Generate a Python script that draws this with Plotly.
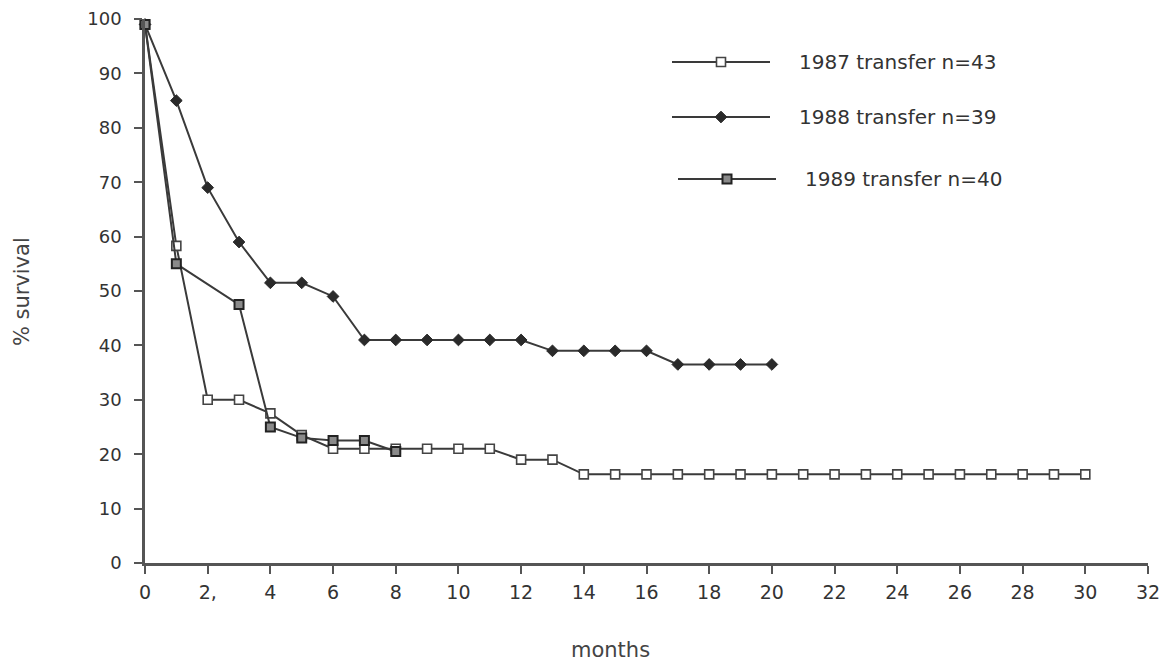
import plotly.graph_objects as go

months_1987 = list(range(0, 31))
surv_1987 = [99, 58.3, 30, 30, 27.5, 23.5, 21, 21, 21, 21, 21, 21, 19, 19,
             16.3, 16.3, 16.3, 16.3, 16.3, 16.3, 16.3, 16.3, 16.3, 16.3, 16.3,
             16.3, 16.3, 16.3, 16.3, 16.3, 16.3]

months_1988 = list(range(0, 21))
surv_1988 = [99, 85, 69, 59, 51.5, 51.5, 49, 41, 41, 41, 41, 41, 41, 39, 39,
             39, 39, 36.5, 36.5, 36.5, 36.5]

months_1989 = [0, 1, 3, 4, 5, 6, 7, 8]
surv_1989 = [99, 55, 47.5, 25, 23, 22.5, 22.5, 20.5]

names = ["1987 transfer n=43", "1988 transfer n=39", "1989 transfer n=40"]
x_ticks = list(range(0, 33, 2))
x_tick_text = ["0", "2,"] + [str(v) for v in range(4, 33, 2)]
y_ticks = list(range(0, 101, 10))

FONT = "DejaVu Sans, Arial"
LINE = "#3a3a3a"
styles = [
    dict(symbol="square", size=9, color="white", line=dict(color="#444", width=1.6)),
    dict(symbol="diamond", size=9, color="#2a2a2a", line=dict(color="#2a2a2a", width=1)),
    dict(symbol="square", size=9, color="#8a8a8a", line=dict(color="#222", width=2)),
]

fig = go.Figure()
for xs, ys, nm, st in [(months_1987, surv_1987, names[0], styles[0]),
                       (months_1988, surv_1988, names[1], styles[1]),
                       (months_1989, surv_1989, names[2], styles[2])]:
    fig.add_trace(go.Scatter(x=xs, y=ys, mode="lines+markers", name=nm,
                             line=dict(color=LINE, width=2), marker=st,
                             showlegend=False, cliponaxis=False))

# manual legend on a pixel-scaled overlay axis
leg_y = [62, 117, 179]
leg_x0 = [672, 672, 678]
leg_x1 = [770, 770, 776]
txt_x = [797, 797, 803]
for i in range(3):
    fig.add_trace(go.Scatter(x=[leg_x0[i], leg_x1[i]], y=[leg_y[i], leg_y[i]],
                             mode="lines", line=dict(color=LINE, width=2),
                             xaxis="x2", yaxis="y2", showlegend=False, hoverinfo="skip"))
    fig.add_trace(go.Scatter(x=[(leg_x0[i] + leg_x1[i]) / 2], y=[leg_y[i]],
                             mode="markers", marker=styles[i],
                             xaxis="x2", yaxis="y2", showlegend=False, hoverinfo="skip"))
    fig.add_annotation(x=txt_x[i], y=leg_y[i], xref="x2", yref="y2", text=names[i],
                       showarrow=False, xanchor="left", yanchor="middle",
                       font=dict(family=FONT, size=20, color="#333"))

fig.add_annotation(x=-0.1226, y=0.498, xref="paper", yref="paper", text="% survival",
                   textangle=-90, showarrow=False, xanchor="center", yanchor="middle",
                   font=dict(family=FONT, size=21, color="#444"))
fig.add_annotation(x=0.4646, y=-0.16, xref="paper", yref="paper", text="months",
                   showarrow=False, xanchor="center", yanchor="middle",
                   font=dict(family=FONT, size=21, color="#444"))

fig.update_layout(
    width=1173, height=663,
    margin=dict(l=145, r=25, t=19, b=100),
    paper_bgcolor="white", plot_bgcolor="white",
    font=dict(family=FONT, color="#333"),
    xaxis=dict(range=[0, 32], tickvals=x_ticks, ticktext=x_tick_text,
               showgrid=False, zeroline=False, showline=True, automargin=False,
               linecolor="#555", linewidth=3, ticks="outside", ticklen=8,
               tickwidth=2, tickcolor="#555", tickfont=dict(size=19, color="#333"),
               ticklabelstandoff=2),
    yaxis=dict(range=[0, 100], tickvals=y_ticks, showgrid=False, zeroline=False,
               showline=True, automargin=False, linecolor="#555", linewidth=2.5,
               ticks="outside", ticklen=8, tickwidth=2, tickcolor="#555",
               tickfont=dict(size=18, color="#333"), ticklabelstandoff=9),
    xaxis2=dict(range=[145, 1148], overlaying="x", visible=False, fixedrange=True,
                automargin=False),
    yaxis2=dict(range=[563, 19], overlaying="y", visible=False, fixedrange=True,
                automargin=False),
)

fig.write_html("out.html")
